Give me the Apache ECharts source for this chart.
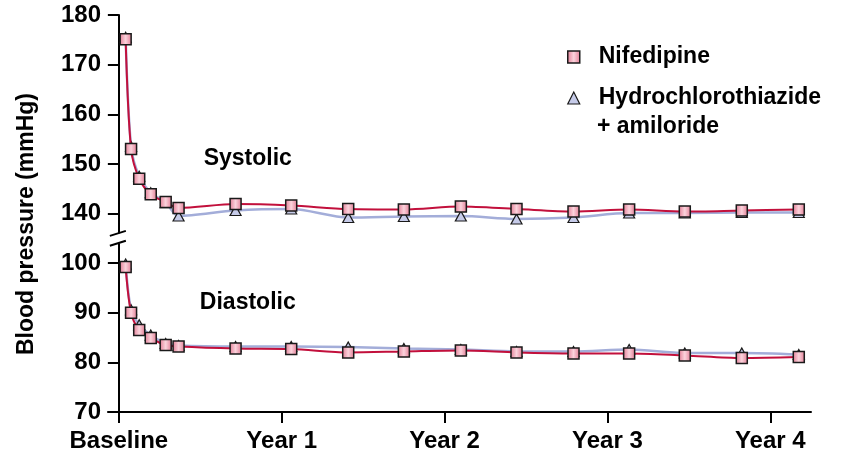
<!DOCTYPE html>
<html>
<head>
<meta charset="utf-8">
<script src="https://cdn.jsdelivr.net/npm/echarts@6/dist/echarts.min.js"></script>
<style>
html,body{margin:0;padding:0;background:#fff;}
#chart{width:864px;height:464px;}
</style>
</head>
<body>
<div id="chart"></div>
<script>
// Time of each visit, in months from baseline
const months = [0.5, 0.9, 1.5, 2.35, 3.45, 4.4, 8.6, 12.7, 16.9, 21.0, 25.2, 29.3, 33.5, 37.6, 41.7, 45.9, 50.1];
// Systolic blood pressure (mmHg)
const nifedipineSys = [175.1, 153.0, 147.0, 143.9, 142.3, 141.1, 141.9, 141.6, 140.9, 140.8, 141.4, 140.9, 140.4, 140.8, 140.4, 140.6, 140.8];
const hctzSys = [175.5, 153.5, 147.5, 144.2, 142.2, 139.5, 140.6, 140.9, 139.2, 139.4, 139.5, 138.9, 139.2, 140.1, 140.1, 140.2, 140.2];
// Diastolic blood pressure (mmHg)
const nifedipineDia = [99.2, 90.0, 86.5, 84.9, 83.5, 83.2, 82.8, 82.7, 82.0, 82.2, 82.4, 82.0, 81.8, 81.8, 81.4, 80.9, 81.1];
const hctzDia = [99.8, 90.6, 87.6, 85.5, 83.8, 83.4, 83.2, 83.2, 83.1, 82.8, 82.6, 82.2, 82.2, 82.6, 81.9, 81.9, 81.6];
// X tick positions (months) and labels
const xTickValues = [0, 12, 24, 36, 48];
const xTickLabels = ['Baseline', 'Year 1', 'Year 2', 'Year 3', 'Year 4'];
const seriesNames = ['Nifedipine', 'Hydrochlorothiazide + amiloride'];

// Broken y axis: values above the break are shifted down by 30 on the internal scale
const BREAK_SHIFT = 30;
const toInternal = v => v >= 120 ? v - BREAK_SHIFT : v;
const toLabel = v => v > 100 ? v + BREAK_SHIFT : v;

const FONT = '"Liberation Sans", Arial, sans-serif';
const chart = echarts.init(document.getElementById('chart'));

const pinkFill = new echarts.graphic.LinearGradient(0, 0, 1, 0, [
  {offset: 0, color: '#e27a93'},
  {offset: 0.5, color: '#fbd3dc'},
  {offset: 1, color: '#e27a93'}
]);
const pinkStyle = {color: pinkFill, borderColor: '#1a1a1a', borderWidth: 1.5};
const blueStyle = {color: '#c6cbe9', borderColor: '#1a1a1a', borderWidth: 1.2};

function pairs(vals) { return months.map((m, i) => [m, toInternal(vals[i])]); }

function mkSeries(name, vals, isNif) {
  return {
    name: name,
    type: 'line',
    data: pairs(vals),
    smooth: 0.3,
    symbol: isNif ? 'rect' : 'triangle',
    symbolSize: isNif ? 11 : [11, 10],
    showAllSymbol: true,
    lineStyle: isNif ? {color: '#c2103c', width: 2} : {color: '#a3add9', width: 2.5},
    itemStyle: isNif ? pinkStyle : blueStyle,
    z: isNif ? 3 : 2,
    emphasis: {disabled: true},
    animation: false
  };
}

const option = {
  animation: false,
  grid: {left: 108, right: 53, top: 15, bottom: 52, containLabel: false, outerBoundsMode: 'none'},
  legend: {
    orient: 'vertical',
    left: 562,
    top: 38,
    itemWidth: 12,
    itemHeight: 12,
    itemGap: 13,
    selectedMode: false,
    data: [
      {name: seriesNames[0], icon: 'rect', itemStyle: pinkStyle},
      {name: seriesNames[1], icon: 'triangle', itemStyle: blueStyle}
    ],
    formatter: n => n.split(' + ')[0],
    textStyle: {fontFamily: FONT, fontWeight: 'bold', fontSize: 23, color: '#000', lineHeight: 28, padding: [0, 0, 0, 14]}
  },
  xAxis: {
    type: 'value',
    min: -0.8,
    max: 51,
    splitLine: {show: false},
    axisLine: {onZero: false, lineStyle: {color: '#000', width: 2}},
    axisTick: {show: true, length: 11, lineStyle: {color: '#000', width: 2}, customValues: xTickValues},
    axisLabel: {
      customValues: xTickValues,
      formatter: v => xTickLabels[xTickValues.indexOf(v)],
      margin: 17,
      fontFamily: FONT, fontWeight: 'bold', fontSize: 24, color: '#000'
    }
  },
  yAxis: {
    type: 'value',
    min: 70,
    max: 150,
    interval: 10,
    name: 'Blood pressure (mmHg)',
    nameLocation: 'middle',
    nameRotate: 90,
    nameGap: 70,
    nameTextStyle: {fontFamily: FONT, fontWeight: 'bold', fontSize: 23, color: '#000', padding: [0, 21, 0, 0]},
    splitLine: {show: false},
    axisLine: {onZero: true, lineStyle: {color: '#000', width: 2}},
    axisTick: {length: 11, lineStyle: {color: '#000', width: 2}},
    axisLabel: {
      formatter: v => String(toLabel(v)),
      margin: 7,
      fontFamily: FONT, fontWeight: 'bold', fontSize: 24, color: '#000'
    }
  },
  series: [
    mkSeries(seriesNames[1], hctzSys, false),
    mkSeries(seriesNames[1], hctzDia, false),
    mkSeries(seriesNames[0], nifedipineSys, true),
    mkSeries(seriesNames[0], nifedipineDia, true)
  ]
};
chart.setOption(option);

// Break marks on the y axis and text annotations
const p1 = chart.convertToPixel({xAxisIndex: 0, yAxisIndex: 0}, [0, 104]);
const p2 = chart.convertToPixel({xAxisIndex: 0, yAxisIndex: 0}, [0, 106]);
const ax = p1[0];
const yA = p2[1], yB = p1[1];
const sysPos = chart.convertToPixel({xAxisIndex: 0, yAxisIndex: 0}, [9.5, toInternal(151)]);
const diaPos = chart.convertToPixel({xAxisIndex: 0, yAxisIndex: 0}, [9.5, 92]);
chart.setOption({
  graphic: [
    {type: 'rect', shape: {x: ax - 3, y: yA, width: 6, height: yB - yA}, style: {fill: '#fff'}, z: 100},
    {type: 'line', shape: {x1: ax - 9, y1: yA + 2.5, x2: ax + 7, y2: yA - 2.5}, style: {stroke: '#000', lineWidth: 2}, z: 101},
    {type: 'line', shape: {x1: ax - 9, y1: yB + 2.5, x2: ax + 7, y2: yB - 2.5}, style: {stroke: '#000', lineWidth: 2}, z: 101},
    {type: 'text', x: sysPos[0], y: sysPos[1], style: {text: 'Systolic', font: 'bold 23px ' + FONT, fill: '#000', align: 'center', verticalAlign: 'middle'}, z: 50},
    {type: 'text', x: diaPos[0], y: diaPos[1], style: {text: 'Diastolic', font: 'bold 23px ' + FONT, fill: '#000', align: 'center', verticalAlign: 'middle'}, z: 50},
    {type: 'text', left: 597, top: 115, style: {text: '+ amiloride', font: 'bold 23px ' + FONT, fill: '#000'}, z: 50}
  ]
});
</script>
</body>
</html>
